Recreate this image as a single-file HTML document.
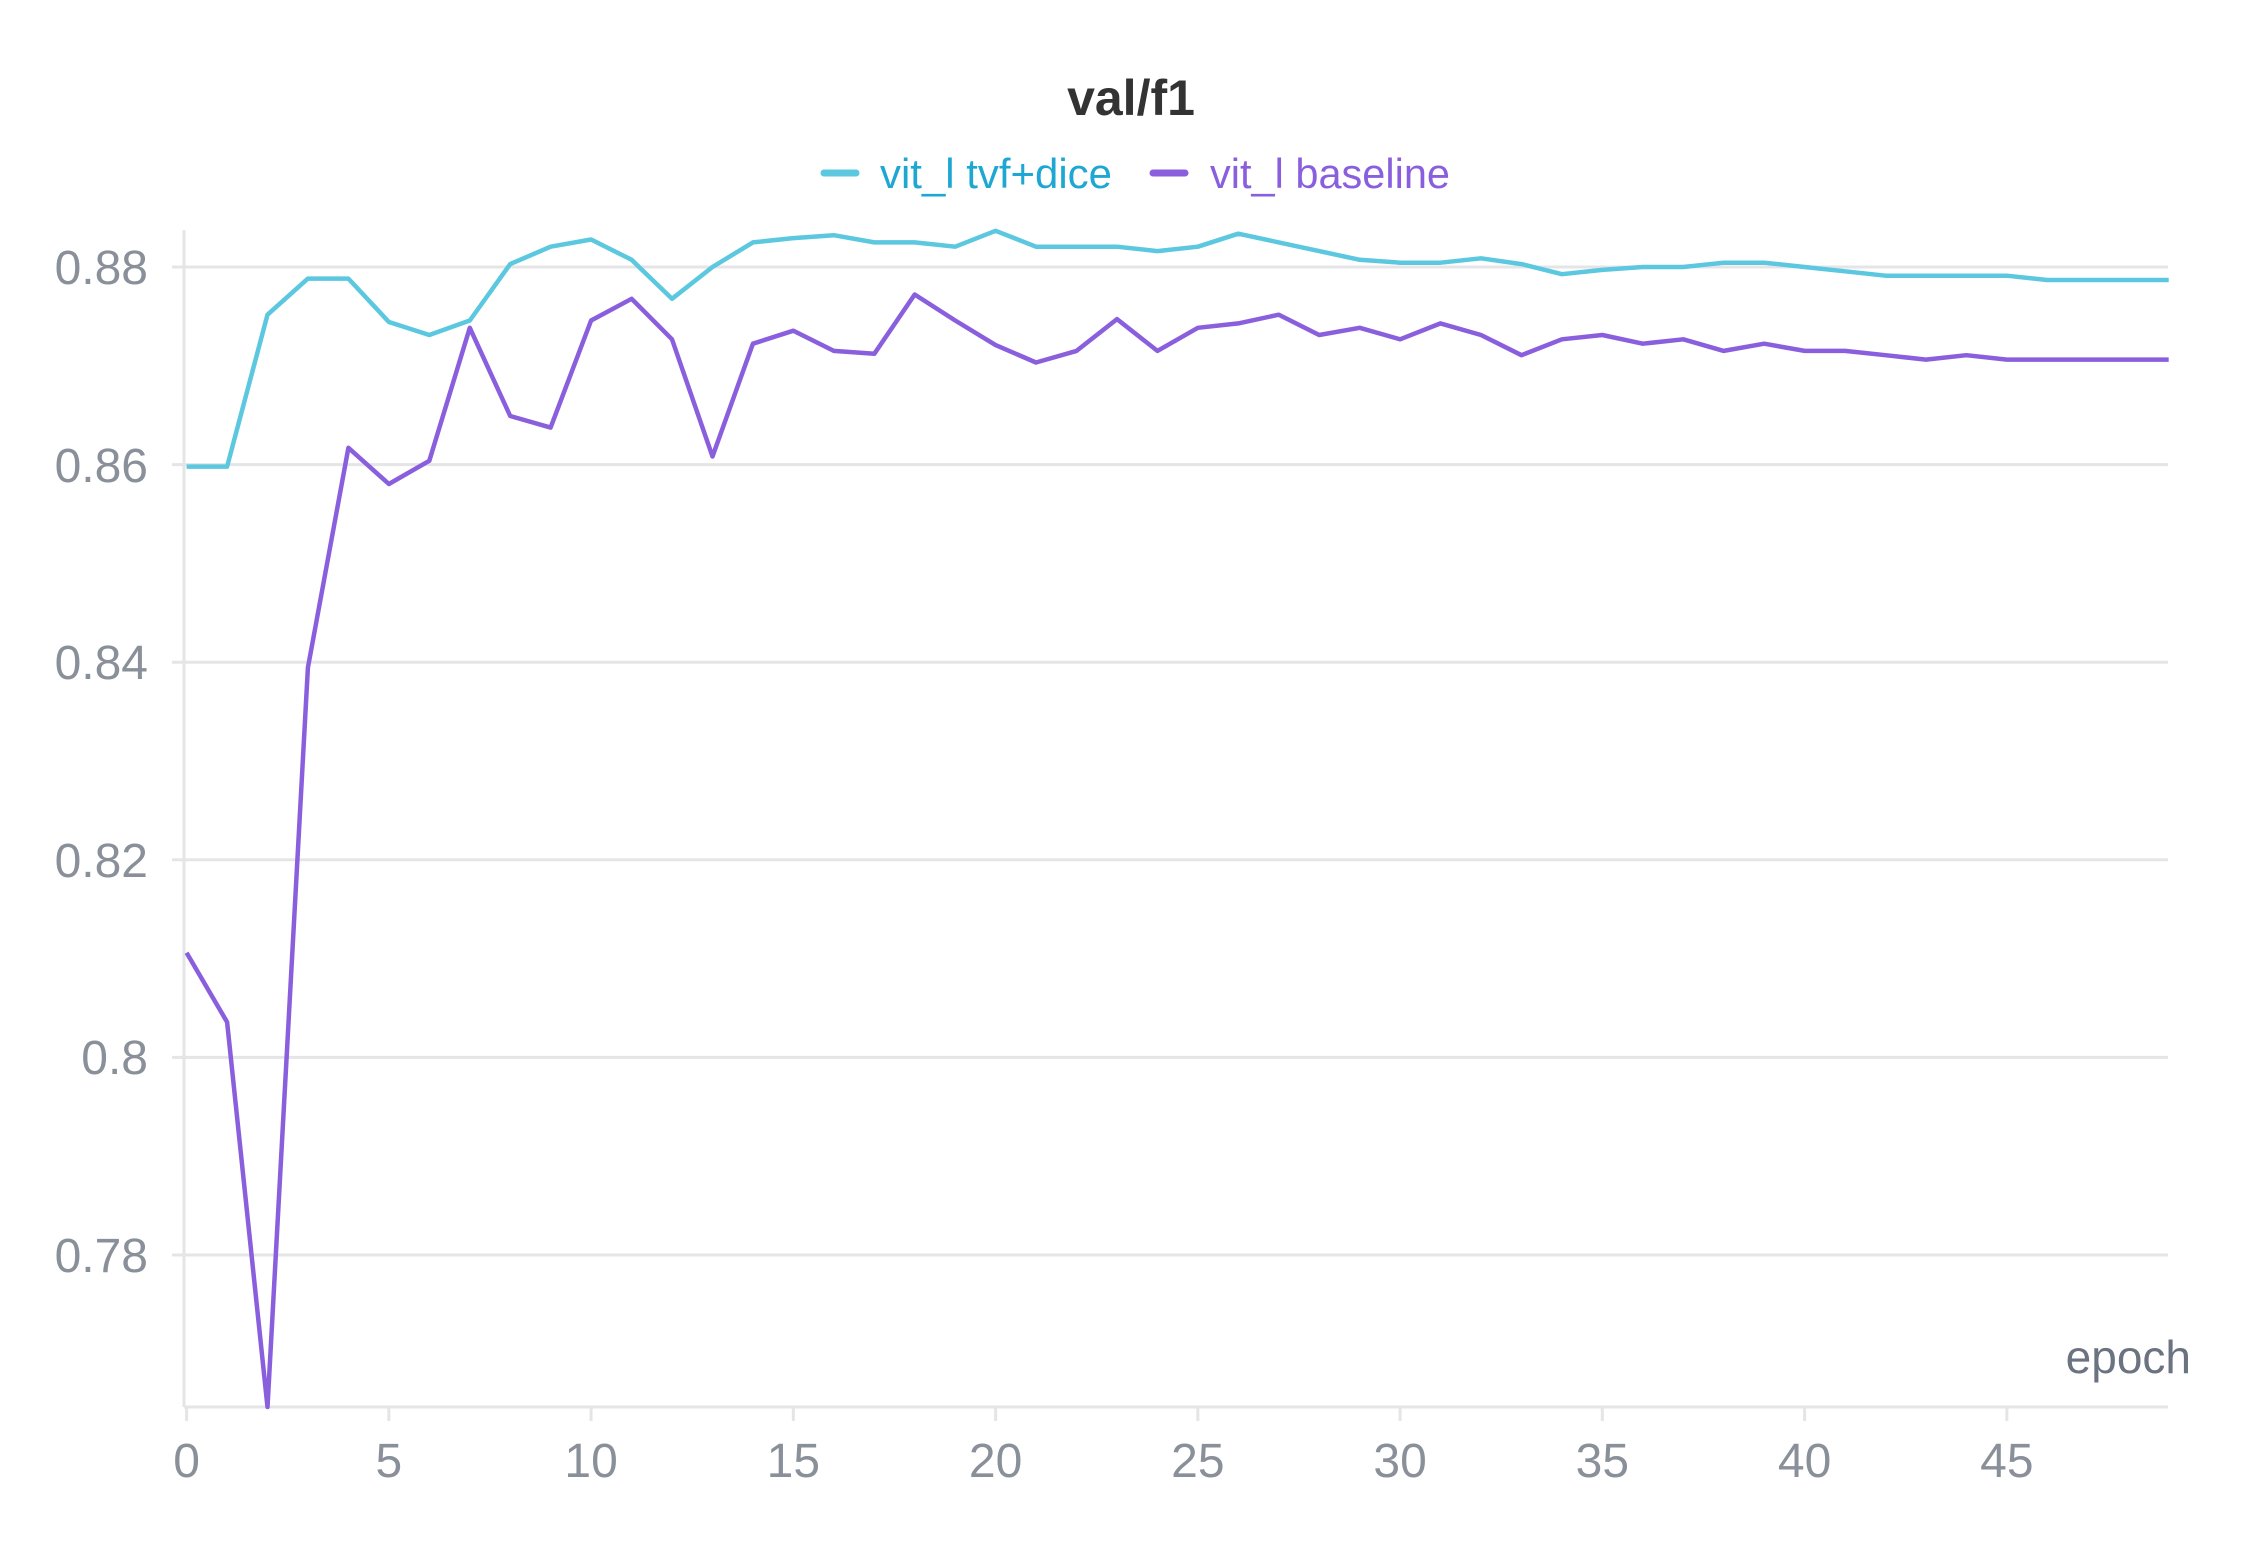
<!DOCTYPE html>
<html><head><meta charset="utf-8"><style>
html,body{margin:0;padding:0;background:#fff;}
svg{display:block;}
text{font-family:"Liberation Sans",sans-serif;}
</style></head><body>
<svg id="s" width="2263" height="1547" viewBox="0 0 2263 1547" xmlns="http://www.w3.org/2000/svg">
<rect width="2263" height="1547" fill="#fff"/>
<text x="1131" y="115" text-anchor="middle" font-size="50" font-weight="bold" fill="#333">val/f1</text>
<line x1="824" y1="173" x2="856" y2="173" stroke="#5bc8e0" stroke-width="7" stroke-linecap="round"/>
<text x="880" y="188" font-size="42" fill="#1ea7d2" textLength="232" lengthAdjust="spacingAndGlyphs">vit_l tvf+dice</text>
<line x1="1153" y1="173" x2="1185" y2="173" stroke="#8a5fde" stroke-width="7" stroke-linecap="round"/>
<text x="1210" y="188" font-size="42" fill="#8a5fde" textLength="240" lengthAdjust="spacingAndGlyphs">vit_l baseline</text>
<g stroke="#e5e5e7" stroke-width="3">
<line x1="172" y1="267" x2="2168" y2="267"/>
<line x1="172" y1="464.6" x2="2168" y2="464.6"/>
<line x1="172" y1="662.2" x2="2168" y2="662.2"/>
<line x1="172" y1="859.8" x2="2168" y2="859.8"/>
<line x1="172" y1="1057.4" x2="2168" y2="1057.4"/>
<line x1="172" y1="1255" x2="2168" y2="1255"/>
<line x1="184" y1="230" x2="184" y2="1407"/>
<line x1="184" y1="1407" x2="2168" y2="1407"/>
</g>
<g font-size="48" fill="#8a9099" text-anchor="end">
<text x="148" y="284">0.88</text>
<text x="148" y="482">0.86</text>
<text x="148" y="679">0.84</text>
<text x="148" y="877">0.82</text>
<text x="148" y="1074">0.8</text>
<text x="148" y="1272">0.78</text>
</g>
<g id="xt" font-size="48" fill="#8a9099" text-anchor="middle"></g>
<text x="2191" y="1373" font-size="46" fill="#6b7280" text-anchor="end">epoch</text>
<polyline id="c" fill="none" stroke="#5bc8e0" stroke-width="4.5" stroke-linejoin="round"/>
<polyline id="p" fill="none" stroke="#8a5fde" stroke-width="4.5" stroke-linejoin="round"/>
</svg>
<script>
var cy=[323,323,218,193,193,223,232,222,183,171,166,180,207,185,168,165,163,168,168,171,160,171,171,171,174,171,162,168,174,180,182,182,179,183,190,187,185,185,182,182,185,188,191,191,191,191,194,194,194,194];
var py=[659,707,975,462,310,335,319,227,288,296,222,207,235,316,238,229,243,245,204,222,239,251,243,221,243,227,224,218,232,227,235,224,232,246,235,232,238,235,243,238,243,243,246,249,246,249,249,249,249,249];
function pts(a){return a.map(function(d,i){var y=267+(d-185)*1.4466;if(y>1407)y=1407;return (186.6+40.45*i).toFixed(1)+","+y.toFixed(1);}).join(" ");}
document.getElementById("c").setAttribute("points",pts(cy));
document.getElementById("p").setAttribute("points",pts(py));
var g=document.getElementById("xt"),ns="http://www.w3.org/2000/svg";
for(var k=0;k<=45;k+=5){var x=186.6+40.45*k;
var l=document.createElementNS(ns,"line");l.setAttribute("x1",x);l.setAttribute("x2",x);l.setAttribute("y1",1407);l.setAttribute("y2",1421);l.setAttribute("stroke","#e5e5e7");l.setAttribute("stroke-width","3");document.getElementById("s").appendChild(l);
var t=document.createElementNS(ns,"text");t.setAttribute("x",x);t.setAttribute("y",1477);t.textContent=k;g.appendChild(t);}
</script>
</body></html>
